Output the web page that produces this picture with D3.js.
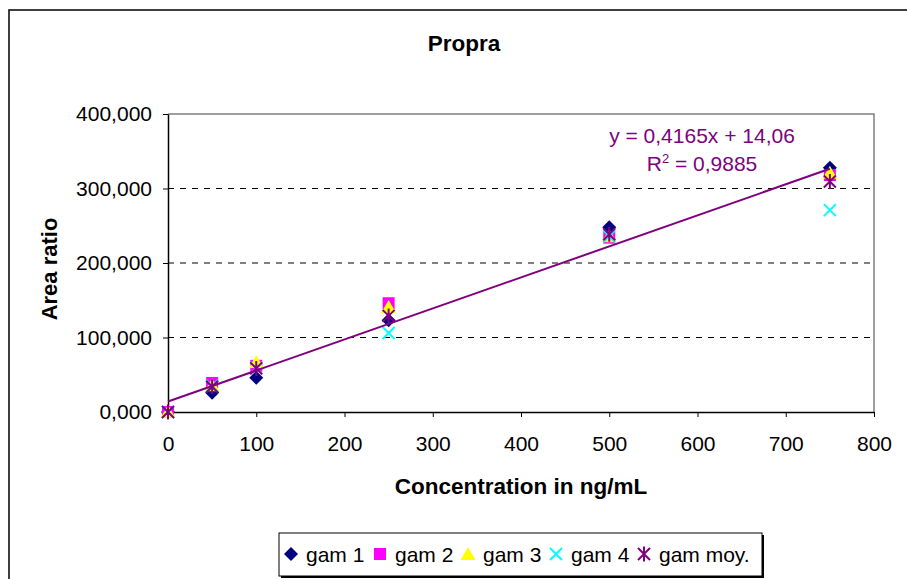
<!DOCTYPE html>
<html>
<head>
<meta charset="utf-8">
<script src="https://cdn.jsdelivr.net/npm/d3@7"></script>
<style>
  html, body { margin: 0; padding: 0; background: #fff; }
  svg { display: block; font-family: "Liberation Sans", Arial, sans-serif; }
</style>
</head>
<body>
<svg id="chart" width="907" height="579"></svg>
<script>
// Calibration data: concentration (ng/mL) vs area ratio
const concentrations = [0, 50, 100, 250, 500, 750];
const gam1 = [0, 26, 46, 123, 248, 328];
const gam2 = [0, 39, 62, 146, 234, 318];
const gam3 = [0, 36, 67, 141, 236, 321];
const gam4 = [0, 35, 59, 106, 236, 271];
const gamMoy = [0, 34, 58.5, 129, 238.5, 309.5];

const seriesNames = ["gam 1", "gam 2", "gam 3", "gam 4", "gam moy."];
const xTicks = [0, 100, 200, 300, 400, 500, 600, 700, 800];
const yTicks = [0, 100, 200, 300, 400];

// Linear fit of the mean series
const fitSlope = 0.4165;
const fitIntercept = 14.06;
const fitR2 = 0.9885;

const svg = d3.select("#chart");
const W = 907, H = 579;
const plot = { left: 168, right: 874, top: 114, bottom: 412 };

const x = d3.scaleLinear().domain([0, 800]).range([plot.left, plot.right]);
const y = d3.scaleLinear().domain([0, 400]).range([plot.bottom, plot.top]);

const fr = d3.formatLocale({ decimal: ",", thousands: " ", grouping: [3], currency: ["", " €"] });
const fmtY = fr.format(".3f");
const fmtNum = fr.format(",");

// Chart frame
svg.append("rect").attr("x", 9).attr("y", 10).attr("width", W + 20).attr("height", H + 20)
  .attr("fill", "#fff").attr("stroke", "#000").attr("stroke-width", 1.5);

// Plot area top/right border
svg.append("path")
  .attr("d", `M${plot.left},${plot.top}H${plot.right}V${plot.bottom}`)
  .attr("fill", "none").attr("stroke", "#808080").attr("stroke-width", 1.5);

// Dashed horizontal gridlines
svg.append("g").selectAll("line").data(yTicks.filter(t => t > 0 && t < 400)).join("line")
  .attr("x1", plot.left).attr("x2", plot.right)
  .attr("y1", d => y(d)).attr("y2", d => y(d))
  .attr("stroke", "#000").attr("stroke-width", 1).attr("stroke-dasharray", "6,6");

// Axes
const xAxis = d3.axisBottom(x).tickValues(xTicks).tickSize(5).tickSizeOuter(0).tickPadding(19)
  .tickFormat(d => fmtNum(d));
const gx = svg.append("g").attr("transform", `translate(0,${plot.bottom})`).call(xAxis);
gx.select(".domain").attr("stroke", "#000").attr("stroke-width", 1.5);
gx.selectAll(".tick line").attr("stroke", "#000").attr("stroke-width", 1);
gx.selectAll(".tick text").attr("font-size", 21).attr("fill", "#000")
  .attr("font-family", "'Liberation Sans', Arial, sans-serif");

const yAxis = d3.axisLeft(y).tickValues(yTicks).tickSize(5).tickSizeOuter(0).tickPadding(11)
  .tickFormat(d => fmtY(d));
const gy = svg.append("g").attr("transform", `translate(${plot.left},0)`).call(yAxis);
gy.select(".domain").attr("stroke", "#000").attr("stroke-width", 1.5);
gy.selectAll(".tick line").attr("stroke", "#000").attr("stroke-width", 1);
gy.selectAll(".tick text").attr("font-size", 21).attr("fill", "#000")
  .attr("font-family", "'Liberation Sans', Arial, sans-serif");

// Titles
svg.append("text").attr("x", 464).attr("y", 51).attr("text-anchor", "middle")
  .attr("font-size", 22.5).attr("font-weight", "bold").text("Propra");
svg.append("text").attr("x", 521).attr("y", 494).attr("text-anchor", "middle")
  .attr("font-size", 22.5).attr("font-weight", "bold").text("Concentration in ng/mL");
svg.append("text").attr("transform", "translate(57,269) rotate(-90)").attr("text-anchor", "middle")
  .attr("font-size", 22).attr("font-weight", "bold").text("Area ratio");

// Marker shapes
const markers = [
  { fill: "#000080", draw: g => g.append("path").attr("d", "M0,-7L7,0L0,7L-7,0Z").attr("fill", "#000080") },
  { fill: "#FF00FF", draw: g => g.append("rect").attr("x", -6).attr("y", -6).attr("width", 12).attr("height", 12).attr("fill", "#FF00FF") },
  { fill: "#FFFF00", draw: g => g.append("path").attr("d", "M0,-7L7.5,6L-7.5,6Z").attr("fill", "#FFFF00") },
  { fill: "#00FFFF", draw: g => g.append("path").attr("d", "M-6,-6L6,6M-6,6L6,-6").attr("stroke", "#00FFFF").attr("stroke-width", 2).attr("fill", "none") },
  { fill: "#800080", draw: g => g.append("path").attr("d", "M-6,-6L6,6M-6,6L6,-6M0,-7.5V7.5").attr("stroke", "#800080").attr("stroke-width", 2).attr("fill", "none") }
];

const allSeries = [gam1, gam2, gam3, gam4, gamMoy];
allSeries.forEach((vals, si) => {
  const pts = concentrations.map((c, i) => ({ c, v: vals[i] }));
  svg.append("g").selectAll("g").data(pts).join("g")
    .attr("transform", d => `translate(${x(d.c)},${y(d.v)})`)
    .each(function () { markers[si].draw(d3.select(this)); });
});

// Trend line
const fitX = [0, 750];
svg.append("line")
  .attr("x1", x(fitX[0])).attr("y1", y(fitIntercept + fitSlope * fitX[0]))
  .attr("x2", x(fitX[1])).attr("y2", y(fitIntercept + fitSlope * fitX[1]))
  .attr("stroke", "#800080").attr("stroke-width", 2);

// Equation label
const eq = svg.append("g").attr("fill", "#800080").attr("font-size", 21).attr("text-anchor", "middle");
eq.append("text").attr("x", 702).attr("y", 143)
  .text(`y = ${fr.format(".4f")(fitSlope)}x + ${fr.format(".2f")(fitIntercept)}`);
const r2 = eq.append("text").attr("x", 702).attr("y", 171);
r2.append("tspan").text("R");
r2.append("tspan").attr("font-size", 13).attr("dy", -8).text("2");
r2.append("tspan").attr("dy", 8).text(` = ${fr.format(".4f")(fitR2)}`);

// Legend
const legend = svg.append("g");
legend.append("rect").attr("x", 281).attr("y", 535).attr("width", 483).attr("height", 43)
  .attr("fill", "#000");
legend.append("rect").attr("x", 279).attr("y", 533).attr("width", 483).attr("height", 43)
  .attr("fill", "#fff").attr("stroke", "#000").attr("stroke-width", 1);
const legendX = [291, 380, 468, 556, 644];
seriesNames.forEach((name, i) => {
  const g = legend.append("g").attr("transform", `translate(${legendX[i]},554)`);
  markers[i].draw(g);
  legend.append("text").attr("x", legendX[i] + 15).attr("y", 562)
    .attr("font-size", 21).attr("fill", "#000").text(name);
});
</script>
</body>
</html>
